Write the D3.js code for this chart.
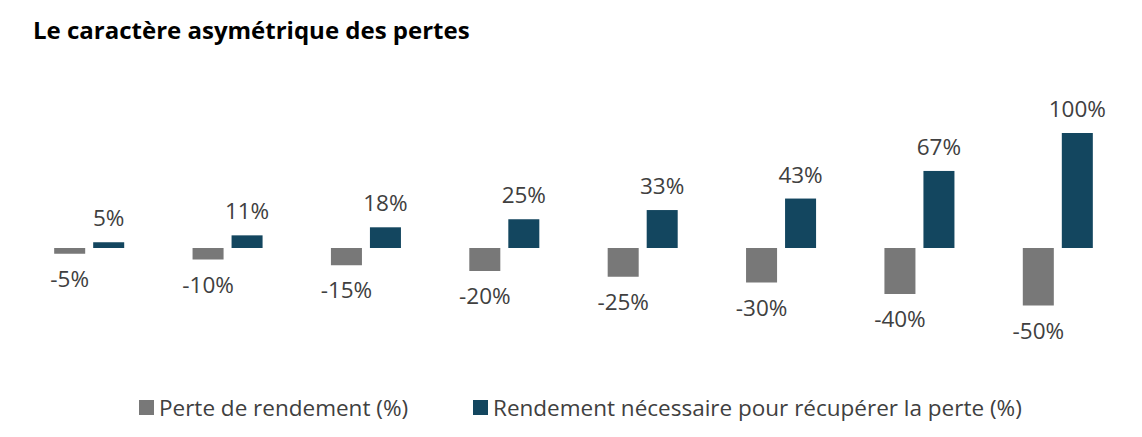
<!DOCTYPE html>
<html>
<head>
<meta charset="utf-8">
<script src="https://cdn.jsdelivr.net/npm/d3@7"></script>
<style>
  body { margin: 0; background: #fff; }
  text { font-family: "Open Sans", Lato, sans-serif; }
</style>
</head>
<body>
<script>
// chart data
var categories = ["g1", "g2", "g3", "g4", "g5", "g6", "g7", "g8"];
var pertes = [-5, -10, -15, -20, -25, -30, -40, -50];
var recuperation = [5, 11, 18, 25, 33, 43, 67, 100];
var seriesNames = ["Perte de rendement (%)", "Rendement nécessaire pour récupérer la perte (%)"];
var colors = ["#787878", "#13465f"];

var width = 1142, height = 437;

var svg = d3.select("body").append("svg")
    .attr("width", width)
    .attr("height", height);

// title
svg.append("text")
    .attr("x", 33)
    .attr("y", 39)
    .attr("font-size", "24px")
    .attr("font-weight", "bold")
    .attr("fill", "#000")
    .text("Le caractère asymétrique des pertes");

// scales
var x0 = d3.scaleBand().domain(categories)
    .range([20, 1127]).paddingInner(0.494).paddingOuter(0.247);
var x1 = d3.scaleBand().domain([0, 1])
    .range([0, x0.bandwidth()]).paddingInner(0.205);
var y = d3.scaleLinear().domain([-50, 100]).range([305.5, 133]);

var groups = svg.selectAll("g.grp")
    .data(categories)
  .enter().append("g")
    .attr("class", "grp")
    .attr("transform", function(d) { return "translate(" + x0(d) + ",0)"; });

// loss bars
groups.append("rect")
    .attr("x", x1(0))
    .attr("width", x1.bandwidth())
    .attr("y", y(0))
    .attr("height", function(d, i) { return y(pertes[i]) - y(0); })
    .attr("fill", colors[0]);

// recovery bars
groups.append("rect")
    .attr("x", x1(1))
    .attr("width", x1.bandwidth())
    .attr("y", function(d, i) { return y(recuperation[i]); })
    .attr("height", function(d, i) { return y(0) - y(recuperation[i]); })
    .attr("fill", colors[1]);

// labels
groups.append("text")
    .attr("x", x1(0) + x1.bandwidth() / 2)
    .attr("y", function(d, i) { return y(pertes[i]) + 33; })
    .attr("text-anchor", "middle")
    .attr("font-size", "22.5px")
    .attr("fill", "#404040")
    .text(function(d, i) { return pertes[i] + "%"; });

groups.append("text")
    .attr("x", x1(1) + x1.bandwidth() / 2)
    .attr("y", function(d, i) { return y(recuperation[i]) - 16; })
    .attr("text-anchor", "middle")
    .attr("font-size", "22.5px")
    .attr("fill", "#404040")
    .text(function(d, i) { return recuperation[i] + "%"; });

// legend
var legendX = [139, 473];
var legend = svg.selectAll("g.leg")
    .data(seriesNames)
  .enter().append("g")
    .attr("class", "leg")
    .attr("transform", function(d, i) { return "translate(" + legendX[i] + ",400)"; });

legend.append("rect")
    .attr("width", 15)
    .attr("height", 15)
    .attr("fill", function(d, i) { return colors[i]; });

legend.append("text")
    .attr("x", 20)
    .attr("y", 15.5)
    .attr("font-size", "22.5px")
    .attr("fill", "#404040")
    .text(function(d) { return d; });
</script>
</body>
</html>
